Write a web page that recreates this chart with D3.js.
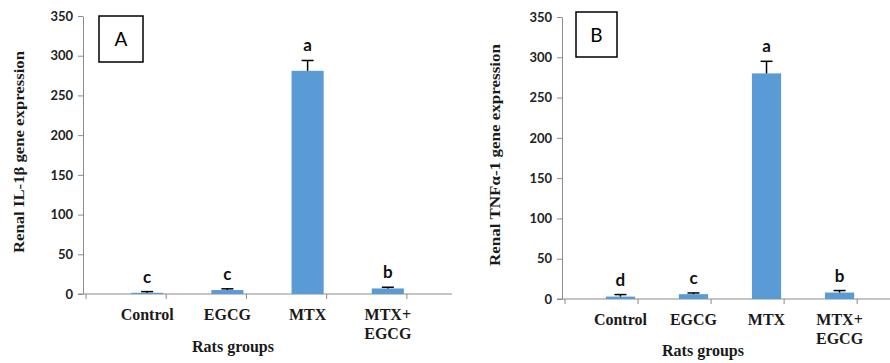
<!DOCTYPE html>
<html>
<head>
<meta charset="utf-8">
<script src="https://cdn.jsdelivr.net/npm/d3@7"></script>
<style>
  body { margin: 0; background: #fff; }
  svg { display: block; }
</style>
</head>
<body>
<script>
// Data: groups, means, errors and significance letters for each panel
const groups = ['Control', 'EGCG', 'MTX', 'MTX+ EGCG'];
const yTicks = [0, 50, 100, 150, 200, 250, 300, 350];

const il1bMeans = [1.5, 5, 281, 7];
const il1bErrors = [1.5, 1.5, 13, 1.5];
const il1bLetters = ['c', 'c', 'a', 'b'];

const tnfMeans = [3, 6, 280, 8];
const tnfErrors = [2.5, 1.5, 15, 2.5];
const tnfLetters = ['d', 'c', 'a', 'b'];

const svg = d3.select('body').append('svg')
    .attr('width', 890)
    .attr('height', 363);

const drawPanel = (cfg) => {
    const g = svg.append('g');

    const x = d3.scaleBand()
        .domain(groups)
        .range([cfg.x0, cfg.x1])
        .padding(0.6);

    const y = d3.scaleLinear()
        .domain([0, 350])
        .range([cfg.y0, cfg.y1]);

    // Y axis
    const yAxis = g.append('g')
        .attr('transform', `translate(${cfg.x0},0)`)
        .call(d3.axisLeft(y).tickValues(yTicks).tickSize(5).tickSizeOuter(0));
    yAxis.select('.domain').attr('stroke', '#8c8c8c');
    yAxis.selectAll('.tick line').attr('stroke', '#8c8c8c');
    yAxis.selectAll('text')
        .attr('x', -10)
        .style('font-family', 'Lato')
        .style('font-weight', 'bold')
        .style('font-size', '13px')
        .attr('fill', '#222');

    // X axis: ticks on band boundaries
    const xAxis = g.append('g');
    xAxis.append('line')
        .attr('x1', cfg.x0 - 5).attr('x2', cfg.x1)
        .attr('y1', cfg.y0).attr('y2', cfg.y0)
        .attr('stroke', '#8c8c8c');
    const step = x.step();
    xAxis.selectAll('.xt')
        .data(d3.range(groups.length + 1))
        .enter()
        .append('line')
        .attr('x1', i => cfg.x0 + 3 + i * step)
        .attr('x2', i => cfg.x0 + 3 + i * step)
        .attr('y1', cfg.y0)
        .attr('y2', cfg.y0 + 5)
        .attr('stroke', '#8c8c8c');

    // X labels
    g.selectAll('.xl')
        .data(groups)
        .enter()
        .append('text')
        .attr('x', d => x(d) + x.bandwidth() / 2)
        .attr('y', cfg.y0 + 26)
        .attr('text-anchor', 'middle')
        .style('font-family', 'Liberation Serif')
        .style('font-weight', 'bold')
        .style('font-size', '16px')
        .attr('fill', '#1a1a1a')
        .each(function (d) {
            const parts = d.split(' ');
            d3.select(this).selectAll('tspan')
                .data(parts)
                .enter()
                .append('tspan')
                .attr('x', x(d) + x.bandwidth() / 2)
                .attr('dy', (p, i) => i === 0 ? 0 : 19)
                .text(p => p);
        });

    // Bars
    g.selectAll('.bar')
        .data(groups)
        .enter()
        .append('rect')
        .attr('x', d => x(d))
        .attr('width', x.bandwidth())
        .attr('y', (d, i) => y(cfg.means[i]))
        .attr('height', (d, i) => y(0) - y(cfg.means[i]))
        .attr('fill', '#5b9bd5');

    // Error bars
    const err = g.selectAll('.err')
        .data(groups)
        .enter()
        .append('g');
    err.append('line')
        .attr('x1', d => x(d) + x.bandwidth() / 2)
        .attr('x2', d => x(d) + x.bandwidth() / 2)
        .attr('y1', (d, i) => y(cfg.means[i]))
        .attr('y2', (d, i) => y(cfg.means[i] + cfg.errors[i]))
        .attr('stroke', '#000')
        .attr('stroke-width', 1.5);
    err.append('line')
        .attr('x1', d => x(d) + x.bandwidth() / 2 - 6)
        .attr('x2', d => x(d) + x.bandwidth() / 2 + 6)
        .attr('y1', (d, i) => y(cfg.means[i] + cfg.errors[i]))
        .attr('y2', (d, i) => y(cfg.means[i] + cfg.errors[i]))
        .attr('stroke', '#000')
        .attr('stroke-width', 1.5);

    // Letters
    g.selectAll('.letter')
        .data(groups)
        .enter()
        .append('text')
        .attr('x', d => x(d) + x.bandwidth() / 2)
        .attr('y', (d, i) => y(cfg.means[i] + cfg.errors[i]) - cfg.letterGap)
        .attr('text-anchor', 'middle')
        .style('font-family', 'Lato')
        .style('font-weight', 'bold')
        .style('font-size', '17px')
        .attr('fill', '#111')
        .text((d, i) => cfg.letters[i]);

    // Panel tag box
    g.append('rect')
        .attr('x', cfg.box[0]).attr('y', cfg.box[1])
        .attr('width', cfg.box[2]).attr('height', cfg.box[3])
        .attr('fill', 'none')
        .attr('stroke', '#000')
        .attr('stroke-width', 1.5);
    g.append('text')
        .attr('x', cfg.box[0] + cfg.box[2] / 2)
        .attr('y', cfg.box[1] + cfg.box[3] / 2 + 7)
        .attr('text-anchor', 'middle')
        .style('font-family', 'Lato')
        .style('font-size', '19px')
        .text(cfg.tag);

    // Y title
    g.append('text')
        .attr('transform', `translate(${cfg.yTitleX},${cfg.yTitleMid}) rotate(-90)`)
        .attr('text-anchor', 'middle')
        .attr('textLength', cfg.yTitleLen)
        .attr('lengthAdjust', 'spacingAndGlyphs')
        .style('font-family', 'Liberation Serif')
        .style('font-weight', 'bold')
        .style('font-size', '15px')
        .attr('fill', '#1a1a1a')
        .text(cfg.yTitle);

    // X title
    g.append('text')
        .attr('x', cfg.xTitleX)
        .attr('y', cfg.xTitleY)
        .attr('text-anchor', 'middle')
        .style('font-family', 'Liberation Serif')
        .style('font-weight', 'bold')
        .style('font-size', '16px')
        .attr('fill', '#1a1a1a')
        .text('Rats groups');
};

drawPanel({
    x0: 83, x1: 452, y0: 294, y1: 16,
    means: il1bMeans, errors: il1bErrors, letters: il1bLetters,
    letterGap: 9, box: [99, 16, 44, 46], tag: 'A',
    yTitle: 'Renal IL-1β gene expression', yTitleX: 24, yTitleMid: 152, yTitleLen: 202,
    xTitleX: 233, xTitleY: 352
});

drawPanel({
    x0: 562, x1: 898, y0: 299, y1: 17,
    means: tnfMeans, errors: tnfErrors, letters: tnfLetters,
    letterGap: 9, box: [576, 12, 41, 45], tag: 'B',
    yTitle: 'Renal TNFα-1 gene expression', yTitleX: 500, yTitleMid: 155, yTitleLen: 222,
    xTitleX: 703, xTitleY: 356
});
</script>
</body>
</html>
